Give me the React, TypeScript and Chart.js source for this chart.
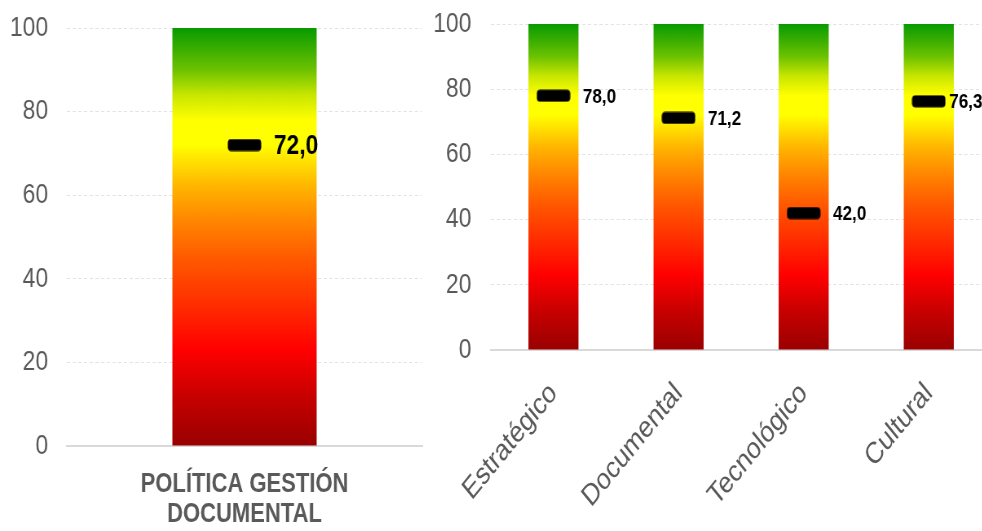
import { useEffect, useRef } from 'react';
import { Chart, registerables } from 'chart.js';

Chart.register(...registerables);

// ---------- data ----------
const leftCategories = [['POLÍTICA GESTIÓN', 'DOCUMENTAL']];
const leftValues = [72.0];
const rightCategories = ['Estratégico', 'Documental', 'Tecnológico', 'Cultural'];
const rightValues = [78.0, 71.2, 42.0, 76.3];
const scaleMin = 0;
const scaleMax = 100;
const scaleStep = 20;

// ---------- styles ----------
const SX = 0.815; // horizontal compression of the whole picture
const FONT = "'Liberation Sans', Arial, sans-serif";
const TEXT_GRAY = '#595959';
const GRADIENT_STOPS: [number, string][] = [
  [0, '#990000'],
  [0.12, '#c80000'],
  [0.23, '#ff0000'],
  [0.33, '#ff2a00'],
  [0.45, '#ff5a00'],
  [0.55, '#ff8c00'],
  [0.62, '#ffb400'],
  [0.68, '#ffe000'],
  [0.72, '#ffff00'],
  [0.78, '#ffff00'],
  [0.84, '#c8e600'],
  [0.9, '#6cc200'],
  [1, '#089a00'],
];

const fmt = (v: number) => v.toFixed(1).replace('.', ',');

function makeMarker(w: number, h: number) {
  const c = document.createElement('canvas');
  c.width = w;
  c.height = h;
  const g = c.getContext('2d')!;
  g.fillStyle = '#000';
  g.beginPath();
  (g as any).roundRect(0.5, 0.5, w - 1, h - 1, 4);
  g.fill();
  return c;
}

const gradientFill = (ctx: any) => {
  const chart = ctx.chart;
  const y = chart.scales && chart.scales.y;
  if (!chart.chartArea || !y) return '#ff0000';
  const g = chart.ctx.createLinearGradient(0, y.getPixelForValue(scaleMin), 0, y.getPixelForValue(scaleMax));
  GRADIENT_STOPS.forEach(([p, c]) => g.addColorStop(p, c));
  return g;
};

const valueLabels = {
  id: 'valueLabels',
  afterDatasetsDraw(chart: any, _args: any, opts: any) {
    const meta = chart.getDatasetMeta(0);
    const ds = chart.data.datasets[0];
    const ctx = chart.ctx;
    ctx.save();
    ctx.font = `bold ${opts.size}px ${FONT}`;
    ctx.fillStyle = '#000';
    ctx.textBaseline = 'middle';
    ctx.textAlign = 'left';
    meta.data.forEach((pt: any, i: number) => {
      const text = fmt(ds.data[i]);
      const w = ctx.measureText(text).width;
      let x = pt.x + opts.half + opts.gap;
      if (opts.visibleRight && x + w > opts.visibleRight) x = pt.x + opts.half + opts.tightGap;
      ctx.fillText(text, x, pt.y + 1);
    });
    ctx.restore();
  },
};

type PanelProps = {
  labels: any[];
  values: number[];
  width: number;
  height: number;
  yAxisWidth: number;
  xAxisHeight: number;
  top: number;
  right: number;
  barPct: number;
  tickGap: number;
  xTicks: any;
  labelSize: number;
  visibleRight?: number;
};

const MARKER_W = 42;
const MARKER_H = 13;

function Panel(p: PanelProps) {
  const ref = useRef<HTMLCanvasElement | null>(null);
  useEffect(() => {
    if (!ref.current) return;
    const marker = makeMarker(MARKER_W, MARKER_H);
    const chart = new Chart(ref.current, {
      type: 'bar',
      data: {
        labels: p.labels,
        datasets: [
          {
            type: 'line',
            data: p.values,
            showLine: false,
            pointStyle: marker as any,
            pointRadius: 8,
            order: 0,
          } as any,
          {
            type: 'bar',
            data: p.labels.map(() => scaleMax),
            backgroundColor: gradientFill,
            borderWidth: 0,
            categoryPercentage: 1,
            barPercentage: p.barPct,
            order: 1,
          } as any,
        ],
      },
      options: {
        responsive: false,
        animation: false,
        layout: { padding: { top: p.top, right: p.right, left: 0, bottom: 0 } },
        plugins: {
          legend: { display: false },
          tooltip: { enabled: false },
          valueLabels: {
            size: p.labelSize,
            half: MARKER_W / 2,
            gap: 15,
            tightGap: 4,
            visibleRight: p.visibleRight,
          },
        } as any,
        scales: {
          x: {
            grid: { display: false },
            border: { display: true, color: '#d9d9d9', width: 2 },
            ticks: { autoSkip: false, color: TEXT_GRAY, ...p.xTicks },
            afterFit: (s: any) => {
              s.height = p.xAxisHeight;
            },
          },
          y: {
            min: scaleMin,
            max: scaleMax,
            ticks: {
              stepSize: scaleStep,
              padding: 0,
              color: TEXT_GRAY,
              font: { family: FONT, size: 28 },
            },
            grid: {
              color: '#e3e3e3',
              drawTicks: true,
              tickLength: p.tickGap,
              tickColor: 'rgba(0,0,0,0)',
              lineWidth: 1,
            },
            border: { display: false, dash: [4, 3] },
            afterFit: (s: any) => {
              s.width = p.yAxisWidth;
            },
          },
        },
      } as any,
      plugins: [valueLabels],
    });
    return () => chart.destroy();
  }, []);
  return <canvas ref={ref} width={p.width} height={p.height} style={{ display: 'block' }} />;
}

export default function App() {
  const squeeze = { transform: `scaleX(${SX})`, transformOrigin: '0 0' };
  return (
    <div
      style={{
        position: 'absolute',
        left: 0,
        top: 0,
        width: 982,
        height: 531,
        overflow: 'hidden',
        background: '#fff',
      }}
    >
      <div style={{ position: 'absolute', left: 0, top: 0, ...squeeze }}>
        <Panel
          labels={leftCategories}
          values={leftValues}
          width={527}
          height={531}
          yAxisWidth={82}
          xAxisHeight={85}
          top={28}
          right={4}
          barPct={0.406}
          tickGap={23}
          xTicks={{
            maxRotation: 0,
            minRotation: 0,
            padding: 16,
            font: { family: FONT, size: 27, weight: 'bold', lineHeight: 1.1 },
          }}
          labelSize={28}
        />
      </div>
      <div style={{ position: 'absolute', left: 420, top: 0, ...squeeze }}>
        <Panel
          labels={rightCategories}
          values={rightValues}
          width={710}
          height={531}
          yAxisWidth={87}
          xAxisHeight={181}
          top={24}
          right={0}
          barPct={0.4}
          tickGap={24}
          xTicks={{
            maxRotation: 45,
            minRotation: 45,
            padding: 18,
            font: { family: FONT, size: 30 },
          }}
          labelSize={21}
          visibleRight={690}
        />
      </div>
    </div>
  );
}
